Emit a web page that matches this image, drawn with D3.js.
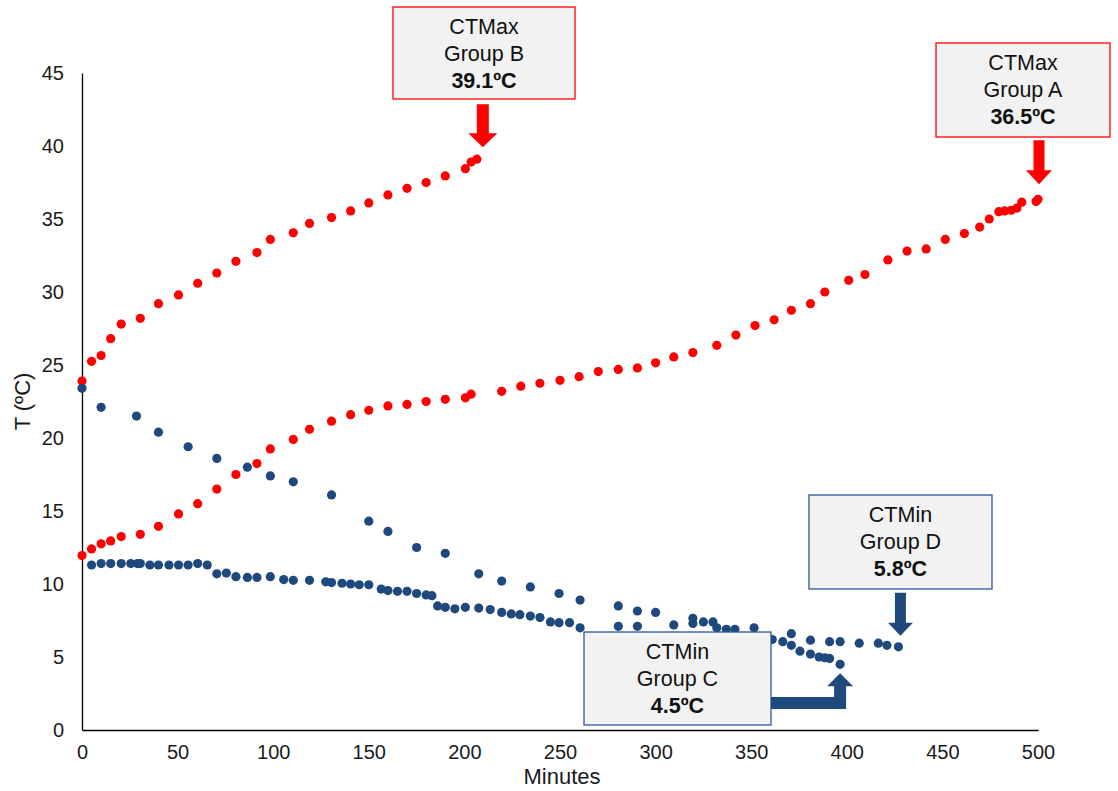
<!DOCTYPE html>
<html>
<head>
<meta charset="utf-8">
<script src="https://cdn.jsdelivr.net/npm/d3@7"></script>
<style>
  body { margin: 0; background: #fff; }
  svg { font-family: "Liberation Sans", Arial, sans-serif; }
</style>
</head>
<body>
<svg id="chart" width="1118" height="791"></svg>
<script>
// data: [minutes, temperature]
const groupA = [[0,11.95],[5,12.4],[10,12.75],[15,12.95],[20.5,13.25],[30.5,13.4],[40,13.95],[50.5,14.8],[60.5,15.5],[70.5,16.5],[80.5,17.5],[91.5,18.25],[98.5,19.25],[110.5,19.9],[119,20.6],[130.5,21.15],[140.5,21.6],[150,21.9],[160,22.2],[170,22.3],[180,22.5],[190,22.65],[200.5,22.75],[203.5,23.0],[219.5,23.2],[229.5,23.55],[239.5,23.75],[250,23.95],[260,24.2],[270,24.55],[280.5,24.7],[290.5,24.8],[300,25.15],[309.5,25.55],[319.5,25.85],[332,26.35],[342,27.05],[352,27.7],[362,28.1],[371,28.75],[381,29.2],[388.5,30.0],[401,30.8],[409.5,31.2],[421.5,32.2],[431.5,32.8],[441.5,32.95],[451.5,33.6],[461.5,34.0],[469.5,34.45],[474.5,35.0],[479.5,35.5],[482.5,35.55],[486,35.6],[489,35.75],[491.5,36.15],[499,36.2],[500,36.35]];

const groupB = [[0,23.9],[5,25.25],[10,25.65],[15,26.8],[20.5,27.8],[30.5,28.2],[40,29.2],[50.5,29.8],[60.5,30.6],[70.5,31.3],[80.5,32.1],[91.5,32.7],[98.5,33.6],[110.5,34.05],[119,34.7],[130.5,35.1],[140.5,35.55],[150,36.1],[160,36.65],[170,37.1],[180,37.5],[190,37.95],[200.5,38.45],[203.5,38.9],[206.5,39.1]];

const groupC = [[0,23.4],[10,22.1],[28.5,21.5],[40,20.4],[55.5,19.4],[70.5,18.6],[86.5,18.0],[98.5,17.4],[110.5,17.0],[130.5,16.1],[150,14.3],[160,13.6],[175,12.5],[190,12.1],[207.5,10.7],[219.5,10.2],[234.5,9.8],[249.5,9.35],[260.5,8.9],[280.5,8.5],[290.5,8.15],[300,8.05],[309.5,7.2],[319.5,7.65],[325,7.4],[330,7.4],[366.5,6.05],[371,5.8],[375.5,5.4],[381,5.2],[385.5,5.0],[388.5,4.95],[391,4.9],[396.5,4.5]];

const groupD = [[5,11.3],[10,11.4],[15,11.4],[20.5,11.4],[25.5,11.4],[29,11.4],[30.5,11.4],[35.5,11.3],[40,11.3],[45.5,11.3],[50.5,11.3],[55.5,11.3],[60.5,11.4],[65.5,11.3],[70.5,10.7],[75.5,10.75],[80.5,10.5],[86.5,10.45],[91.5,10.45],[98.5,10.5],[105.5,10.3],[110.5,10.25],[119,10.25],[127.5,10.15],[130.5,10.1],[136,10.05],[140.5,10.0],[145,9.95],[150,9.95],[156.5,9.65],[160,9.55],[165,9.5],[170,9.5],[175,9.35],[180,9.25],[183,9.2],[186,8.5],[190,8.4],[195,8.3],[200.5,8.4],[207.5,8.35],[213.5,8.25],[219.5,8.05],[224.5,7.95],[229,7.9],[234.5,7.8],[239.5,7.7],[245,7.4],[249.5,7.35],[255,7.35],[260.5,7.0],[280.5,7.1],[290.5,7.1],[319.5,7.3],[332,7.0],[337,6.9],[341.5,6.9],[351.5,7.0],[361,6.2],[371,6.6],[381,6.15],[391,6.05],[396.5,6.05],[406.5,5.95],[416.5,5.95],[421,5.8],[427,5.7]];

const xTicks = [0, 50, 100, 150, 200, 250, 300, 350, 400, 450, 500];
const yTicks = [0, 5, 10, 15, 20, 25, 30, 35, 40, 45];

const labels = [
  { group: "Group B", kind: "CTMax", value: "39.1ºC" },
  { group: "Group A", kind: "CTMax", value: "36.5ºC" },
  { group: "Group D", kind: "CTMin", value: "5.8ºC" },
  { group: "Group C", kind: "CTMin", value: "4.5ºC" }
];

const RED = "#ff0000", BLUE = "#1f497d";

const svg = d3.select("#chart");
const margin = { left: 82, right: 80, top: 73, bottom: 61 };
const width = 1118, height = 791;

const x = d3.scaleLinear().domain([0, 500]).range([margin.left, width - margin.right]);
const y = d3.scaleLinear().domain([0, 45]).range([height - margin.bottom, margin.top]);

// axes, no tick marks
svg.append("g")
    .attr("transform", `translate(0,${y(0)})`)
    .call(d3.axisBottom(x).tickValues(xTicks).tickSize(0).tickPadding(15))
    .call(g => g.select(".domain").attr("stroke", "#000").attr("stroke-width", 1.3))
    .call(g => g.selectAll("text").attr("font-size", 20).attr("fill", "#1a1a1a")
        .attr("font-family", "Liberation Sans, Arial, sans-serif"));

svg.append("g")
    .attr("transform", `translate(${x(0)},0)`)
    .call(d3.axisLeft(y).tickValues(yTicks).tickSize(0).tickPadding(18))
    .call(g => g.select(".domain").attr("stroke", "#000").attr("stroke-width", 1.3))
    .call(g => g.selectAll("text").attr("font-size", 20).attr("fill", "#1a1a1a")
        .attr("font-family", "Liberation Sans, Arial, sans-serif"));

svg.append("text")
    .attr("x", (x(0) + x(500)) / 2 + 2)
    .attr("y", 784)
    .attr("text-anchor", "middle")
    .attr("font-size", 22)
    .attr("fill", "#1a1a1a")
    .text("Minutes");

svg.append("text")
    .attr("transform", `translate(30, ${y(22.5)}) rotate(-90)`)
    .attr("text-anchor", "middle")
    .attr("font-size", 22)
    .attr("fill", "#1a1a1a")
    .text("T (ºC)");

// dots
const series = [
  { data: groupA, color: RED },
  { data: groupB, color: RED },
  { data: groupC, color: BLUE },
  { data: groupD, color: BLUE }
];

series.forEach(s => {
  svg.append("g")
    .selectAll("circle")
    .data(s.data)
    .enter().append("circle")
    .attr("cx", d => x(d[0]))
    .attr("cy", d => y(d[1]))
    .attr("r", 4.6)
    .attr("fill", s.color);
});

// annotation boxes
const boxes = [
  { x: 393, y: 7, w: 182, h: 92, stroke: RED },
  { x: 936, y: 43, w: 174, h: 94, stroke: RED },
  { x: 809, y: 495, w: 183, h: 94, stroke: "#2f5597" },
  { x: 584, y: 632, w: 187, h: 93, stroke: "#2f5597" }
];

boxes.forEach((b, i) => {
  const g = svg.append("g");
  g.append("rect")
    .attr("x", b.x).attr("y", b.y).attr("width", b.w).attr("height", b.h)
    .attr("fill", "#f2f2f2").attr("stroke", b.stroke).attr("stroke-width", 1.3);
  const cx = b.x + b.w / 2;
  g.append("text").attr("x", cx).attr("y", b.y + 27)
    .attr("text-anchor", "middle").attr("font-size", 21.5).attr("fill", "#111")
    .text(labels[i].kind);
  g.append("text").attr("x", cx).attr("y", b.y + 54)
    .attr("text-anchor", "middle").attr("font-size", 21.5).attr("fill", "#111")
    .text(labels[i].group);
  g.append("text").attr("x", cx).attr("y", b.y + 81)
    .attr("text-anchor", "middle").attr("font-size", 21.5).attr("font-weight", "bold").attr("fill", "#111")
    .text(labels[i].value);
});

// down arrows pointing at the last point of a series
function downArrow(tipX, tipY, len, shaftW, headW, headL, color) {
  const pts = [
    [tipX - shaftW / 2, tipY - len], [tipX + shaftW / 2, tipY - len],
    [tipX + shaftW / 2, tipY - headL], [tipX + headW / 2, tipY - headL],
    [tipX, tipY],
    [tipX - headW / 2, tipY - headL], [tipX - shaftW / 2, tipY - headL]
  ];
  svg.append("polygon").attr("points", pts.map(p => p.join(",")).join(" ")).attr("fill", color);
}

const lastB = groupB[groupB.length - 1];
const lastA = groupA[groupA.length - 1];
const lastD = groupD[groupD.length - 1];
const lastC = groupC[groupC.length - 1];

downArrow(x(lastB[0]) + 6, y(lastB[1]) - 12, 43, 12, 29, 14, RED);
downArrow(x(lastA[0]) + 1, y(lastA[1]) - 15, 44, 11, 26, 14, RED);
downArrow(x(lastD[0]) + 2, y(lastD[1]) - 11, 43, 11, 25, 13, BLUE);

// elbow arrow for group C
{
  const tx = x(lastC[0]), ty = y(lastC[1]) + 9;
  const sw = 12, hw = 26, hl = 13;
  const barY = 709;
  const pts = [
    [771, barY], [771, barY - sw], [tx - sw / 2, barY - sw],
    [tx - sw / 2, ty + hl], [tx - hw / 2, ty + hl], [tx, ty],
    [tx + hw / 2, ty + hl], [tx + sw / 2, ty + hl], [tx + sw / 2, barY]
  ];
  svg.append("polygon").attr("points", pts.map(p => p.join(",")).join(" ")).attr("fill", BLUE);
}
</script>
</body>
</html>
